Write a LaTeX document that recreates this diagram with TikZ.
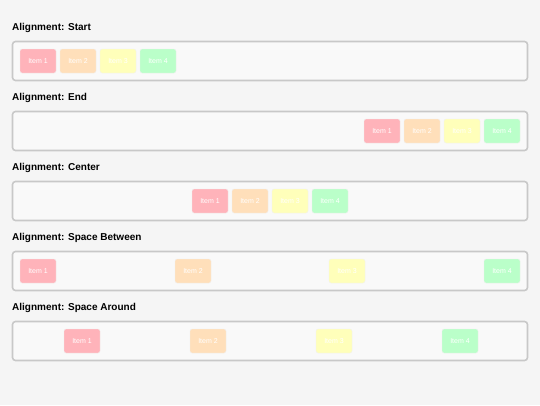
\documentclass[tikz,border=0pt]{standalone}
\usepackage{fontspec}
\setmainfont{Liberation Sans}
\usepackage{xcolor}
\usepackage{tikz}
\usetikzlibrary{positioning,calc}
\definecolor{pagebg}{HTML}{F5F5F5}
\definecolor{boxbg}{HTML}{F9F9F9}
\definecolor{boxline}{HTML}{C8C8C8}
\definecolor{itemred}{HTML}{FFB3BA}
\definecolor{itemorange}{HTML}{FFDFBA}
\definecolor{itemyellow}{HTML}{FFFFBA}
\definecolor{itemgreen}{HTML}{BAFFC9}
\tikzset{
  rowtitle/.style={anchor=base west, inner sep=0pt, font=\fontsize{10}{12}\selectfont\bfseries, text=black},
  rowbox/.style={draw=boxline, fill=boxbg, line width=1.6pt, rounded corners=3pt,
    minimum width=515pt, minimum height=39pt, inner sep=0pt},
  itembox/.style={draw=black!6, line width=0.4pt, rounded corners=2pt, text=white,
    minimum width=36pt, minimum height=24pt, inner sep=0pt, font=\fontsize{7}{8}\selectfont}
}

\begin{document}
\begin{tikzpicture}[x=1pt, y=-1pt]
  \fill[pagebg] (0,0) rectangle (540,405);
  \useasboundingbox (0,0) rectangle (540,405);

  % one row per alignment: title, container, four items
  \foreach \r/\mode/\xa/\xb/\xc/\xd in {
      0/Start/38/78/118/158,
      1/End/382/422/462/502,
      2/Center/210/250/290/330,
      3/Space Between/38/193/347/502,
      4/Space Around/82/208/334/460} {
    \node[rowtitle] (title\r) at (12,{30.5+70*\r}) {Alignment: \mode};
    \node[rowbox] (row\r) at (270,{61+70*\r}) {};
    \foreach \i/\xx/\col in {1/\xa/itemred, 2/\xb/itemorange, 3/\xc/itemyellow, 4/\xd/itemgreen}
      \node[itembox, fill=\col] (item\r\i) at (\xx,{61+70*\r}) {Item \i};
  }
\end{tikzpicture}
\end{document}
